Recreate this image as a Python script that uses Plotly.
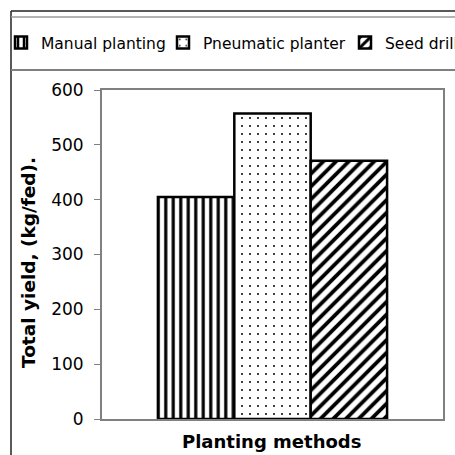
import plotly.graph_objects as go

W = 455
H = 455

category = ["Planting methods"]
methods = ["Manual planting", "Pneumatic planter", "Seed drill"]
yields = [405, 557, 471]
patterns = ["|", ".", "/"]
pattern_sizes = [7.5, 8, 9]
pattern_solidity = [0.42, 0.05, 0.42]

y_ticks = [0, 100, 200, 300, 400, 500, 600]

legend_ids = ["legend", "legend2", "legend3"]
legend_left_px = [1, 163, 345]


def px_x(p):
    return p / W


def px_y(p):
    return 1 - p / H


fig = go.Figure()
for name, val, shp, sz, sol, lg in zip(methods, yields, patterns, pattern_sizes,
                                       pattern_solidity, legend_ids):
    fig.add_trace(go.Bar(
        x=category,
        y=[val],
        name=name,
        legend=lg,
        marker=dict(
            color="white",
            line=dict(color="black", width=2.5),
            pattern=dict(shape=shp, fgcolor="black", bgcolor="white",
                         size=sz, solidity=sol, fillmode="replace"),
        ),
    ))

legend_common = dict(
    orientation="h",
    xanchor="left",
    y=px_y(43), yanchor="middle",
    font=dict(family="DejaVu Sans", size=15.5, color="black"),
    bgcolor="rgba(0,0,0,0)",
    borderwidth=0,
)

fig.update_layout(
    width=W,
    height=H,
    margin=dict(l=0, r=0, t=0, b=0, autoexpand=False),
    paper_bgcolor="white",
    plot_bgcolor="white",
    barmode="group",
    bargap=0.328,
    bargroupgap=0,
    showlegend=True,
    font=dict(family="DejaVu Sans", color="black"),
    legend=dict(x=px_x(legend_left_px[0]), **legend_common),
    legend2=dict(x=px_x(legend_left_px[1]), **legend_common),
    legend3=dict(x=px_x(legend_left_px[2]), **legend_common),
    xaxis=dict(
        domain=[px_x(102), px_x(443)],
        showticklabels=False,
        ticks="",
        showgrid=False,
        showline=True,
        linecolor="#808080",
        linewidth=2,
        mirror=True,
        automargin=False,
    ),
    yaxis=dict(
        domain=[px_y(419), px_y(90)],
        range=[0, 600],
        tickvals=y_ticks,
        ticks="outside",
        ticklen=6,
        tickwidth=1,
        tickcolor="#808080",
        ticklabelstandoff=7,
        tickfont=dict(family="DejaVu Sans", size=17, color="black"),
        showgrid=False,
        zeroline=False,
        showline=True,
        linecolor="#808080",
        linewidth=2,
        mirror=True,
        automargin=False,
    ),
    annotations=[
        dict(text="<b>Planting methods</b>", xref="paper", yref="paper",
             x=px_x(271), y=px_y(441), xanchor="center", yanchor="middle",
             showarrow=False, font=dict(family="DejaVu Sans", size=18, color="black")),
        dict(text="<b>Total yield, (kg/fed).</b>", xref="paper", yref="paper",
             x=px_x(28), y=px_y(263), xanchor="center", yanchor="middle",
             textangle=-90, showarrow=False,
             font=dict(family="DejaVu Sans", size=18.5, color="black")),
    ],
    shapes=[
        dict(type="line", xref="paper", yref="paper", x0=px_x(11), x1=px_x(460),
             y0=px_y(11), y1=px_y(11), line=dict(color="#222222", width=1.5)),
        dict(type="line", xref="paper", yref="paper", x0=px_x(11), x1=px_x(11),
             y0=px_y(11), y1=px_y(460), line=dict(color="#222222", width=1.5)),
        dict(type="line", xref="paper", yref="paper", x0=px_x(11), x1=px_x(460),
             y0=px_y(17), y1=px_y(17), line=dict(color="#9a9a9a", width=1.5)),
        dict(type="line", xref="paper", yref="paper", x0=px_x(11), x1=px_x(460),
             y0=px_y(70), y1=px_y(70), line=dict(color="#808080", width=2)),
    ],
)

fig.write_html("out.html")
